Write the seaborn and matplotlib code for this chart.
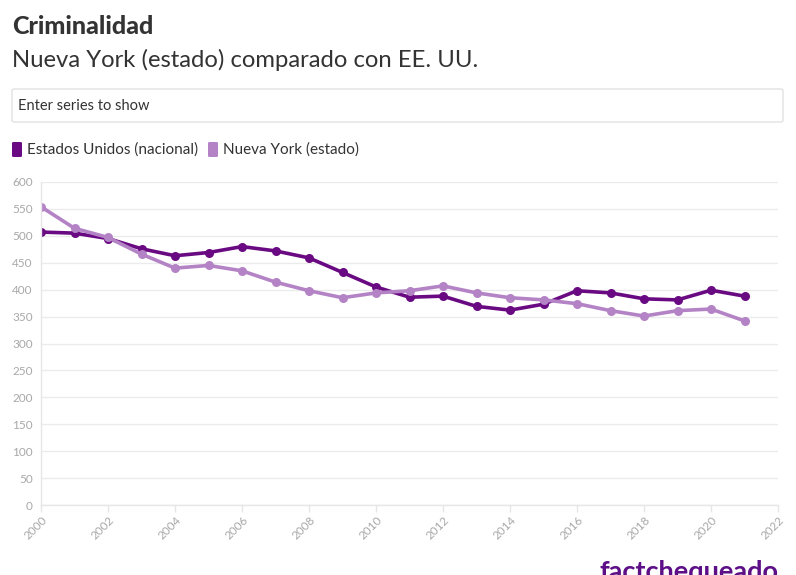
import numpy as np
import pandas as pd
import matplotlib
matplotlib.use("Agg")
import matplotlib.pyplot as plt
import seaborn as sns
from matplotlib.patches import FancyBboxPatch

# --- data ---
years = list(range(2000, 2022))
us_values = [507, 505, 495, 476, 463, 469, 480, 472, 459, 432, 405,
             386, 388, 369, 362, 373, 398, 394, 383, 381, 399, 388]
ny_values = [554, 514, 497, 466, 440, 445, 435, 414, 398, 385, 394,
             398, 407, 394, 385, 381, 374, 361, 351, 361, 364, 342]
series_names = ["Estados Unidos (nacional)", "Nueva York (estado)"]
series_colors = ["#6a0a82", "#b383c6"]
y_ticks = list(range(0, 601, 50))
x_ticks = list(range(2000, 2023, 2))

df = pd.DataFrame({
    "year": years * 2,
    "value": us_values + ny_values,
    "serie": [series_names[0]] * len(years) + [series_names[1]] * len(years),
})

sns.set_theme(style="white")
plt.rcParams["font.family"] = ["Lato", "DejaVu Sans"]

W, H = 796, 575
fig = plt.figure(figsize=(W / 100, H / 100), dpi=100)

def fx(px):
    return px / W

def fy(py):
    return 1 - py / H

ax = fig.add_axes([fx(41), fy(505), fx(778) - fx(41), fy(182) - fy(505)])
sns.lineplot(data=df, x="year", y="value", hue="serie", palette=series_colors,
             hue_order=series_names, linewidth=2.6, marker="o", markersize=6.5,
             markeredgewidth=0, legend=False, ax=ax)

ax.set_xlim(2000, 2022)
ax.set_ylim(0, 600)
ax.set_xticks(x_ticks)
ax.set_yticks(y_ticks)
ax.set_xlabel("")
ax.set_ylabel("")
ax.grid(axis="y", color="#ebebeb", linewidth=1)
ax.grid(axis="x", visible=False)
for side in ["top", "right"]:
    ax.spines[side].set_visible(False)
for side in ["left", "bottom"]:
    ax.spines[side].set_color("#e6e6e6")
    ax.spines[side].set_linewidth(1)
ax.tick_params(axis="y", length=0, pad=6, labelsize=8.5, labelcolor="#a8a8a8")
ax.tick_params(axis="x", length=5, width=1, color="#e6e6e6", direction="out",
               bottom=True, pad=2, labelsize=8.5, labelcolor="#a8a8a8")
for lbl in ax.get_xticklabels():
    lbl.set_rotation(45)
    lbl.set_ha("right")
    lbl.set_rotation_mode("anchor")

# --- title block ---
fig.text(fx(12), fy(27), "Criminalidad", fontsize=18, fontweight="black",
         color="#333333", va="center", ha="left")
fig.text(fx(12), fy(60), "Nueva York (estado) comparado con EE. UU.", fontsize=17.2,
         color="#333333", va="center", ha="left")

# search box
fig.patches.append(FancyBboxPatch((fx(12), fy(122)), fx(783) - fx(12), fy(89) - fy(122),
                                  boxstyle="round,pad=0,rounding_size=0.003",
                                  transform=fig.transFigure, facecolor="white",
                                  edgecolor="#e2e2e2", linewidth=1))
fig.text(fx(18), fy(106), "Enter series to show", fontsize=10.5, color="#333333",
         va="center", ha="left")

# legend
legend_x = [12, 208]
for name, color, lx in zip(series_names, series_colors, legend_x):
    fig.patches.append(FancyBboxPatch((fx(lx), fy(157)), fx(10), fy(142) - fy(157),
                                      boxstyle="round,pad=0,rounding_size=0.002",
                                      transform=fig.transFigure, facecolor=color,
                                      edgecolor="none"))
    fig.text(fx(lx + 15), fy(150), name, fontsize=11, color="#333333",
             va="center", ha="left")

# logo (cut off at bottom, as in the reference)
fig.text(fx(599), fy(560), "factchequeado", fontsize=19.5, fontweight="bold",
         color="#5c0f86", va="top", ha="left")

fig.savefig("out.png", dpi=100)
